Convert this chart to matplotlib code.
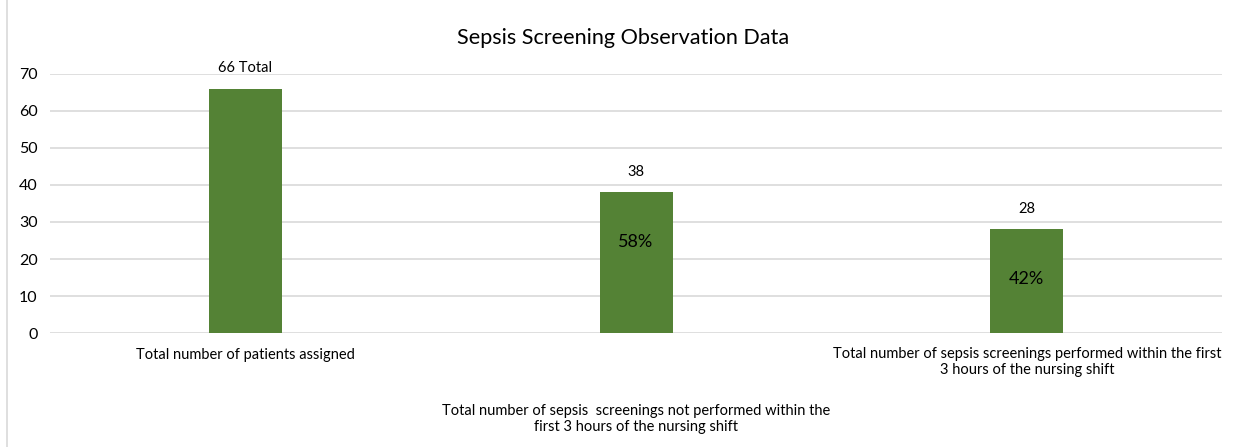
import matplotlib.pyplot as plt
from matplotlib.lines import Line2D

categories = ["Total number of patients assigned",
              "Total number of sepsis  screenings not performed within the\nfirst 3 hours of the nursing shift",
              "Total number of sepsis screenings performed within the first\n3 hours of the nursing shift"]
values = [66, 38, 28]
top_labels = ["66 Total", "38", "28"]
inner_labels = ["", "58%", "42%"]

plt.rcParams['font.family'] = ['Lato', 'DejaVu Sans']

fig = plt.figure(figsize=(12.39, 4.47), dpi=100)
ax = fig.add_axes([0.0404, 0.255, 0.946, 0.5795])

x = list(range(len(values)))
ax.bar(x, values, width=0.187, color="#548235", zorder=3)
ax.set_xlim(-0.5, 2.5)
ax.set_ylim(0, 70)
ax.set_yticks(range(0, 71, 10))
ax.grid(axis="y", color="#d9d9d9", linewidth=1.2, zorder=0)
for s in ax.spines.values():
    s.set_visible(False)
ax.tick_params(axis="y", length=0, labelsize=11.5, pad=9)
ax.tick_params(axis="x", length=0)
ax.set_xticks(x)
ax.set_xticklabels([])

for i, v in enumerate(values):
    ax.annotate(top_labels[i], (i, v), xytext=(0, 15), textcoords="offset points",
                ha="center", va="center", fontsize=10.5)
    if inner_labels[i]:
        ax.annotate(inner_labels[i], (i, v), xytext=(0, -36), textcoords="offset points",
                    ha="center", va="center", fontsize=13)

# category labels (Excel-style staggered)
ax.annotate(categories[0], (0, 0), xytext=(0, -15.5), textcoords="offset points",
            ha="center", va="center", fontsize=10.5, annotation_clip=False)
ax.annotate(categories[1], (1, 0), xytext=(0, -62), textcoords="offset points",
            ha="center", va="center", fontsize=10.5, linespacing=1.2, annotation_clip=False)
ax.annotate(categories[2], (2, 0), xytext=(0, -21), textcoords="offset points",
            ha="center", va="center", fontsize=10.5, linespacing=1.2, annotation_clip=False)

fig.text(623 / 1239, 1 - 38 / 447, "Sepsis Screening Observation Data",
         ha="center", va="center", fontsize=15.6)

fig.add_artist(Line2D([7 / 1239, 7 / 1239], [0, 1], color="#d9d9d9", linewidth=1.2,
                      transform=fig.transFigure))

fig.savefig("out.png", dpi=100)
